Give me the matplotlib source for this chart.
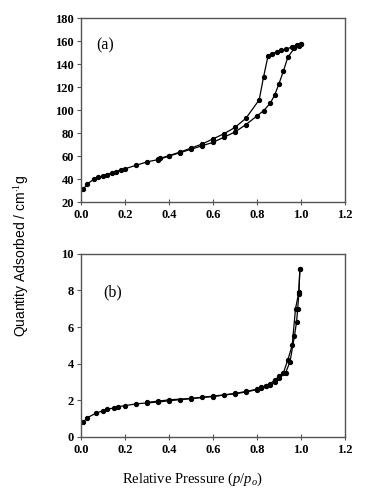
import matplotlib
matplotlib.use("Agg")
import matplotlib.pyplot as plt

# panel (a): adsorption / desorption branches
a_ads_p = [0.01, 0.03, 0.06, 0.08, 0.10, 0.12, 0.14, 0.16, 0.18, 0.20, 0.25, 0.30, 0.35,
           0.40, 0.45, 0.50, 0.55, 0.60, 0.65, 0.70, 0.75, 0.80, 0.83, 0.86, 0.88, 0.90,
           0.92, 0.94, 0.97, 0.99, 1.00]
a_ads_q = [31, 36, 40, 41.5, 43, 44, 45.5, 46.5, 48, 49, 52, 55, 57,
           60, 63, 66, 69, 72, 76.5, 81, 87.5, 95, 99.5, 106, 113, 123,
           134, 146, 154, 156, 157.5]
a_des_p = [1.00, 0.98, 0.96, 0.93, 0.91, 0.89, 0.87, 0.85, 0.83, 0.81, 0.75, 0.70,
           0.65, 0.60, 0.55, 0.50, 0.45, 0.40, 0.36, 0.35]
a_des_q = [158, 157, 155, 153, 152, 151, 149, 147, 129, 109, 93, 85,
           79.5, 75, 70.5, 67, 63.5, 60.5, 58, 57.5]

# panel (b)
b_ads_p = [0.01, 0.03, 0.07, 0.10, 0.12, 0.15, 0.17, 0.20, 0.25, 0.30, 0.35, 0.40, 0.45,
           0.50, 0.55, 0.60, 0.65, 0.70, 0.75, 0.80, 0.82, 0.84, 0.86, 0.88, 0.90, 0.93,
           0.95, 0.97, 0.98, 0.985, 0.99, 0.995]
b_ads_q = [0.8, 1.05, 1.3, 1.42, 1.5, 1.58, 1.65, 1.7, 1.8, 1.85, 1.9, 1.97, 2.03,
           2.08, 2.15, 2.2, 2.28, 2.35, 2.45, 2.58, 2.65, 2.75, 2.85, 3.0, 3.2, 3.5,
           4.1, 5.5, 6.3, 7.0, 7.8, 9.2]
b_des_p = [0.995, 0.99, 0.975, 0.96, 0.94, 0.92, 0.90, 0.88, 0.86, 0.84, 0.82, 0.80,
           0.75, 0.70, 0.60, 0.50, 0.40, 0.35, 0.30]
b_des_q = [9.2, 7.9, 7.0, 5.0, 4.2, 3.5, 3.3, 3.1, 2.9, 2.8, 2.7, 2.6,
           2.48, 2.37, 2.22, 2.1, 2.02, 1.95, 1.88]

plt.rcParams["font.family"] = ["Liberation Serif", "DejaVu Serif"]
plt.rcParams["mathtext.fontset"] = "custom"
plt.rcParams["mathtext.rm"] = "Liberation Serif"
plt.rcParams["mathtext.it"] = "Liberation Serif:italic"

fig = plt.figure(figsize=(3.71, 4.93), dpi=100)
ax_a = fig.add_axes([0.218, 0.590, 0.712, 0.373])
ax_b = fig.add_axes([0.218, 0.114, 0.712, 0.371])


def style(ax, ylim, yticks, tag, tag_xy):
    ax.set_xlim(0, 1.2)
    ax.set_ylim(*ylim)
    ax.set_xticks([0.0, 0.2, 0.4, 0.6, 0.8, 1.0, 1.2])
    ax.set_xticklabels(["0.0", "0.2", "0.4", "0.6", "0.8", "1.0", "1.2"])
    ax.set_yticks(yticks)
    for s in ax.spines.values():
        s.set_color("#555555")
        s.set_linewidth(1.0)
    ax.tick_params(axis="x", direction="inout", length=4, width=0.8, color="#555555",
                   labelsize=9, pad=3)
    ax.tick_params(axis="y", direction="out", length=3, width=0.8, color="#555555",
                   labelsize=9, pad=2)
    for lab in ax.get_xticklabels() + ax.get_yticklabels():
        lab.set_fontweight("bold")
    ax.text(tag_xy[0], tag_xy[1], tag, transform=ax.transAxes, fontsize=11.5,
            ha="left", va="center")


for ax, (p1, q1, p2, q2) in [(ax_a, (a_ads_p, a_ads_q, a_des_p, a_des_q)),
                             (ax_b, (b_ads_p, b_ads_q, b_des_p, b_des_q))]:
    ax.plot(p1, q1, color="black", lw=0.9, marker="o", ms=2.8)
    ax.plot(p2, q2, color="black", lw=0.9, marker="o", ms=2.8)

style(ax_a, (20, 180), range(20, 181, 20), "(a)", (0.06, 0.85))
style(ax_b, (0, 10), range(0, 11, 2), "(b)", (0.085, 0.79))

fig.text(0.058, 0.48, "Quantity Adsorbed / cm$^{\\cdot1}$g", rotation=90,
         ha="center", va="center", fontsize=10, family=["Liberation Sans", "DejaVu Sans"])
fig.text(0.52, 0.028, "Relative Pressure ($p/p_o$)", ha="center", va="center",
         fontsize=10.5)

fig.savefig("out.png", dpi=100)
